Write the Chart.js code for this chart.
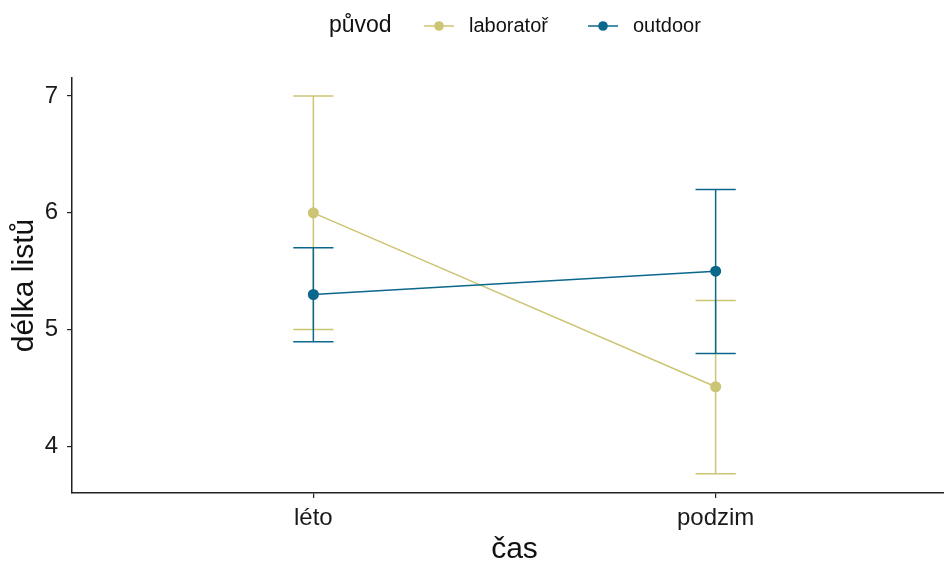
<!DOCTYPE html>
<html>
<head>
<meta charset="utf-8">
<script src="https://cdn.jsdelivr.net/npm/chart.js@4"></script>
<style>
  html, body { margin: 0; padding: 0; background: #fff; overflow: hidden; }
  #wrap { width: 944px; height: 565px; overflow: hidden; }
</style>
</head>
<body>
<div id="wrap"><canvas id="c" width="957" height="565"></canvas></div>
<script>
// ---- data ----
const categories = ['léto', 'podzim'];
const seriesNames = ['laboratoř', 'outdoor'];
const labMean = [6.0, 4.51];
const labLow = [5.0, 3.765];
const labHigh = [7.0, 5.25];
const outMean = [5.3, 5.5];
const outLow = [4.895, 4.795];
const outHigh = [5.7, 6.2];
const yTicks = [4, 5, 6, 7];

const colLab = '#CCC574';
const colOut = '#0B678C';
const FONT = '"Liberation Sans", Arial, Helvetica, sans-serif';

const series = [
  { name: seriesNames[0], mean: labMean, low: labLow, high: labHigh, color: colLab },
  { name: seriesNames[1], mean: outMean, low: outLow, high: outHigh, color: colOut }
];

const datasets = series.map((s, si) => ({
  type: 'line',
  label: s.name,
  data: categories.map((c, i) => ({ x: i + 1, y: s.mean[i] })),
  borderColor: s.color,
  backgroundColor: s.color,
  pointBackgroundColor: s.color,
  pointBorderColor: s.color,
  borderWidth: 1.5,
  pointRadius: 4.8,
  pointHoverRadius: 4.8,
  tension: 0,
  order: series.length - si
}));

const errorBars = {
  id: 'errorBars',
  beforeDatasetsDraw(chart) {
    const ctx = chart.ctx;
    const xs = chart.scales.x, ys = chart.scales.y;
    series.forEach(s => {
      ctx.save();
      ctx.strokeStyle = s.color;
      ctx.lineWidth = 1.5;
      categories.forEach((c, i) => {
        const xc = xs.getPixelForValue(i + 1);
        const xl = xs.getPixelForValue(i + 1 - 0.05);
        const xr = xs.getPixelForValue(i + 1 + 0.05);
        const yl = ys.getPixelForValue(s.low[i]);
        const yh = ys.getPixelForValue(s.high[i]);
        ctx.beginPath();
        ctx.moveTo(xc, yl); ctx.lineTo(xc, yh);
        ctx.moveTo(xl, yl); ctx.lineTo(xr, yl);
        ctx.moveTo(xl, yh); ctx.lineTo(xr, yh);
        ctx.stroke();
      });
      ctx.restore();
    });
  }
};

const customLegend = {
  id: 'customLegend',
  afterDraw(chart) {
    const ctx = chart.ctx;
    const cy = 26;
    ctx.save();
    ctx.textBaseline = 'middle';
    ctx.textAlign = 'left';
    ctx.fillStyle = '#111';
    ctx.font = '23px ' + FONT;
    ctx.fillText('původ', 329, cy);
    const items = [
      { sx: 424, tx: 469, s: series[0] },
      { sx: 588, tx: 633, s: series[1] }
    ];
    ctx.font = '20px ' + FONT;
    items.forEach(it => {
      ctx.strokeStyle = it.s.color;
      ctx.lineWidth = 1.5;
      ctx.beginPath();
      ctx.moveTo(it.sx, cy); ctx.lineTo(it.sx + 30, cy);
      ctx.stroke();
      ctx.fillStyle = it.s.color;
      ctx.beginPath();
      ctx.arc(it.sx + 15, cy, 4.8, 0, Math.PI * 2);
      ctx.fill();
      ctx.fillStyle = '#111';
      ctx.fillText(it.s.name, it.tx, cy);
    });
    ctx.restore();
  }
};

new Chart(document.getElementById('c'), {
  data: { datasets },
  plugins: [errorBars, customLegend],
  options: {
    responsive: false,
    animation: false,
    events: [],
    layout: { autoPadding: false, padding: { top: 78, right: 0, left: 0, bottom: 0 } },
    plugins: { legend: { display: false }, tooltip: { enabled: false } },
    scales: {
      x: {
        type: 'linear',
        min: 0.4,
        max: 2.6,
        afterBuildTicks(scale) { scale.ticks = categories.map((c, i) => ({ value: i + 1 })); },
        afterFit(scale) { scale.height = 72; },
        ticks: {
          callback: (v) => categories[Math.round(v) - 1] || '',
          font: { family: FONT, size: 24 },
          color: '#1a1a1a',
          padding: 6,
          maxRotation: 0,
          autoSkip: false
        },
        grid: { drawOnChartArea: false, drawTicks: true, tickLength: 5, color: '#222', lineWidth: 1.2 },
        border: { display: true, color: '#222', width: 1.5 },
        title: {
          display: true,
          text: 'čas',
          font: { family: FONT, size: 30, lineHeight: 1 },
          color: '#111',
          padding: { top: 0, bottom: 0 }
        }
      },
      y: {
        type: 'linear',
        min: 3.6,
        max: 7.155,
        afterBuildTicks(scale) { scale.ticks = yTicks.map(v => ({ value: v })); },
        afterFit(scale) { scale.width = 72; },
        ticks: {
          font: { family: FONT, size: 24 },
          color: '#1a1a1a',
          padding: 9
        },
        grid: { drawOnChartArea: false, drawTicks: true, tickLength: 5, color: '#222', lineWidth: 1.2 },
        border: { display: true, color: '#222', width: 1.5 },
        title: {
          display: true,
          text: 'délka listů',
          font: { family: FONT, size: 30, lineHeight: 1 },
          color: '#111',
          padding: { top: 10, bottom: 0 }
        }
      }
    }
  }
});
</script>
</body>
</html>
